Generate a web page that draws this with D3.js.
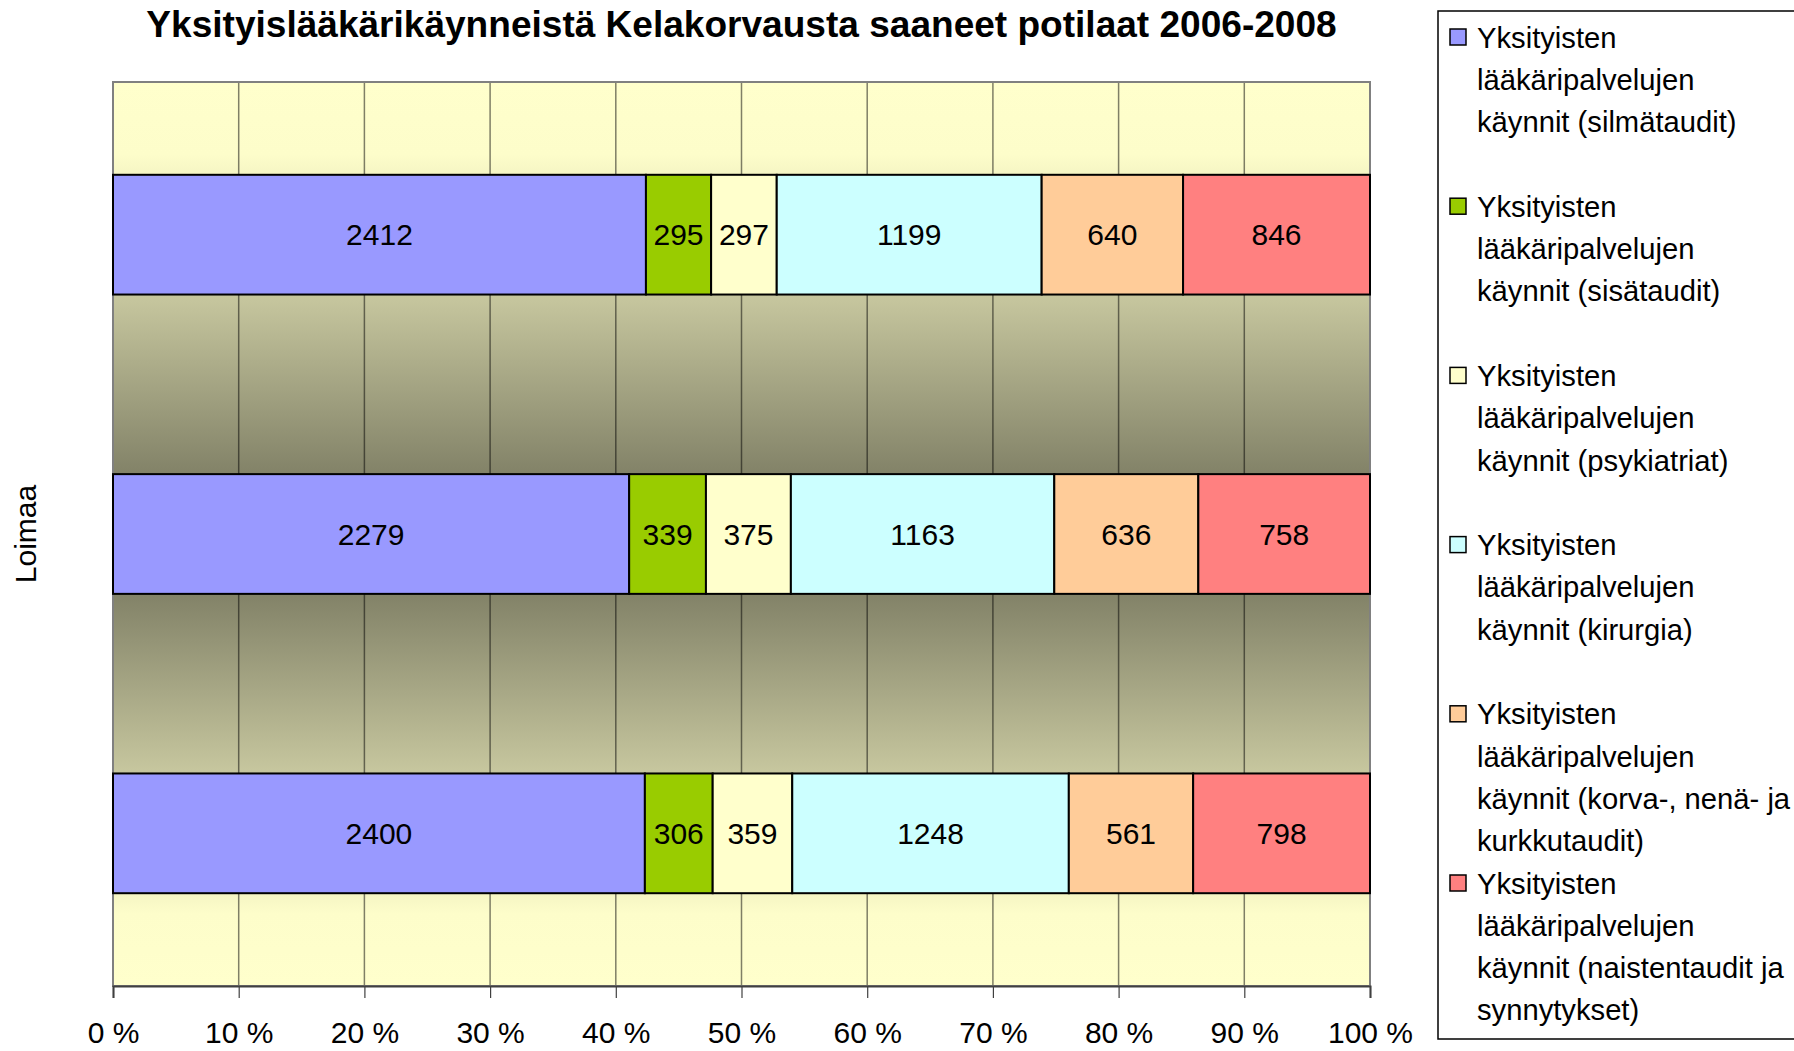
<!DOCTYPE html>
<html>
<head>
<meta charset="utf-8">
<script src="https://cdn.jsdelivr.net/npm/d3@7"></script>
<style>
  body { margin: 0; background: #fff; overflow: hidden; }
  svg text { font-family: Arial, "Liberation Sans", Arimo, Helvetica, sans-serif; }
</style>
</head>
<body>
<div id="chart-area"></div>
<script>
// DATA
const categories = ["2008", "2007", "2006"];   // top to bottom, row labels hidden
const groupLabel = "Loimaa";
// legend lines as wrapped in the picture
const legendLines = [
    ["Yksityisten", "lääkäripalvelujen", "käynnit (silmätaudit)"],
    ["Yksityisten", "lääkäripalvelujen", "käynnit (sisätaudit)"],
    ["Yksityisten", "lääkäripalvelujen", "käynnit (psykiatriat)"],
    ["Yksityisten", "lääkäripalvelujen", "käynnit (kirurgia)"],
    ["Yksityisten", "lääkäripalvelujen", "käynnit (korva-, nenä- ja", "kurkkutaudit)"],
    ["Yksityisten", "lääkäripalvelujen", "käynnit (naistentaudit ja", "synnytykset)"]
];
const silmataudit = [2412, 2279, 2400];
const sisataudit = [295, 339, 306];
const psykiatria = [297, 375, 359];
const kirurgia = [1199, 1163, 1248];
const korvaNenaKurkku = [640, 636, 561];
const naistentaudit = [846, 758, 798];
const colors = ["#9999FF", "#99CC00", "#FFFFCC", "#CCFFFF", "#FFCC99", "#FF8080"];
const tickValues = [0, 0.1, 0.2, 0.3, 0.4, 0.5, 0.6, 0.7, 0.8, 0.9, 1];

const seriesValues = [silmataudit, sisataudit, psykiatria, kirurgia, korvaNenaKurkku, naistentaudit];

// build rows for the stack
const rows = categories.map(function (c, i) {
    const row = { cat: c };
    seriesValues.forEach(function (vals, s) { row["s" + s] = vals[i]; });
    return row;
});
const keys = seriesValues.map(function (d, s) { return "s" + s; });

const stack = d3.stack().keys(keys).offset(d3.stackOffsetExpand);
const stacked = stack(rows);

const W = 1794, H = 1051;
const margin = { left: 113, right: 424, top: 82, bottom: 65 };
const width = W - margin.left - margin.right,
    height = H - margin.top - margin.bottom;

const svg = d3.select("#chart-area")
    .append("svg")
    .attr("width", W)
    .attr("height", H);

// background gradient of plot area
const grad = svg.append("defs").append("linearGradient")
    .attr("id", "bg")
    .attr("x1", 0).attr("y1", 0).attr("x2", 0).attr("y2", 1);
[[0, "#FFFFCC"], [0.08, "#FDFDCA"], [0.44, "#808066"], [0.56, "#808066"], [0.92, "#FDFDCA"], [1, "#FFFFCC"]]
    .forEach(function (s) {
        grad.append("stop").attr("offset", s[0]).attr("stop-color", s[1]);
    });

const g = svg.append("g")
    .attr("transform", "translate(" + margin.left + ", " + margin.top + ")");

g.append("rect")
    .attr("width", width)
    .attr("height", height)
    .attr("fill", "url(#bg)");

const x = d3.scaleLinear().domain([0, 1]).range([0, width]);
const y = d3.scaleBand()
    .domain(categories)
    .range([0, height])
    .paddingInner(0.6)
    .paddingOuter(0.31);

// GRIDLINES
g.append("g")
    .selectAll("line")
    .data(tickValues.slice(1, -1))
    .enter()
    .append("line")
    .attr("x1", function (d) { return x(d); })
    .attr("x2", function (d) { return x(d); })
    .attr("y1", 0)
    .attr("y2", height)
    .attr("stroke", "#000")
    .attr("stroke-opacity", 0.5)
    .attr("stroke-width", 1.5);

// plot border
g.append("rect")
    .attr("width", width)
    .attr("height", height)
    .attr("fill", "none")
    .attr("stroke", "#808080")
    .attr("stroke-width", 2);

// X AXIS
const xAxisCall = d3.axisBottom(x)
    .tickValues(tickValues)
    .tickSize(12)
    .tickPadding(24)
    .tickFormat(function (d) { return Math.round(d * 100) + " %"; });
const xAxis = g.append("g")
    .attr("class", "x axis")
    .attr("transform", "translate(0, " + height + ")")
    .call(xAxisCall);
xAxis.attr("font-family", null);
xAxis.select(".domain").attr("stroke", "#404040").attr("stroke-width", 2);
xAxis.selectAll(".tick line").attr("stroke", "#404040").attr("stroke-width", 1.2);
xAxis.selectAll("text")
    .attr("font-size", "30px")
    .attr("fill", "#000");

// BARS
const layers = g.selectAll(".layer")
    .data(stacked)
    .enter()
    .append("g")
    .attr("class", "layer")
    .attr("fill", function (d, i) { return colors[i]; });

layers.selectAll("rect")
    .data(function (d) { return d; })
    .enter()
    .append("rect")
    .attr("x", function (d) { return x(d[0]); })
    .attr("y", function (d) { return y(d.data.cat); })
    .attr("width", function (d) { return x(d[1]) - x(d[0]); })
    .attr("height", y.bandwidth())
    .attr("stroke", "#000")
    .attr("stroke-width", 2);

// VALUE LABELS
layers.each(function (layer) {
    d3.select(this).selectAll("text")
        .data(layer)
        .enter()
        .append("text")
        .attr("x", function (d) { return (x(d[0]) + x(d[1])) / 2; })
        .attr("y", function (d) { return y(d.data.cat) + y.bandwidth() / 2; })
        .attr("dy", "0.36em")
        .attr("text-anchor", "middle")
        .attr("font-size", "30px")
        .attr("fill", "#000")
        .text(function (d) { return d.data[layer.key]; });
});

// Y LABEL
g.append("text")
    .attr("transform", "translate(-88, " + (height / 2) + ") rotate(-90)")
    .attr("text-anchor", "middle")
    .attr("dy", "0.36em")
    .attr("font-size", "30px")
    .text(groupLabel);

// TITLE
const title = svg.append("text")
    .attr("x", margin.left + width / 2)
    .attr("y", 37)
    .attr("text-anchor", "middle")
    .attr("font-size", "34px")
    .attr("font-weight", "bold")
    .text("Yksityislääkärikäynneistä Kelakorvausta saaneet potilaat 2006-2008");
const tw = title.node().getComputedTextLength();
title.attr("font-size", (34 * 1191 / tw) + "px");

// LEGEND
const legend = svg.append("g").attr("transform", "translate(1438, 11)");
legend.append("rect")
    .attr("width", 420)
    .attr("height", 1028)
    .attr("fill", "#fff")
    .attr("stroke", "#000")
    .attr("stroke-width", 1.5);

const lineH = 42.3;
const items = legend.selectAll(".item")
    .data(legendLines)
    .enter()
    .append("g")
    .attr("class", "item")
    .attr("transform", function (d, i) { return "translate(0, " + (26 + i * 4 * lineH) + ")"; });

items.append("rect")
    .attr("x", 12)
    .attr("y", -8)
    .attr("width", 16)
    .attr("height", 16)
    .attr("fill", function (d, i) { return colors[i]; })
    .attr("stroke", "#000")
    .attr("stroke-width", 1.5);

items.append("text")
    .attr("font-size", "29.2px")
    .attr("fill", "#000")
    .selectAll("tspan")
    .data(function (d) { return d; })
    .enter()
    .append("tspan")
    .attr("x", 39)
    .attr("y", function (d, j) { return j * lineH; })
    .attr("dy", "0.36em")
    .text(function (d) { return d; });
</script>
</body>
</html>
